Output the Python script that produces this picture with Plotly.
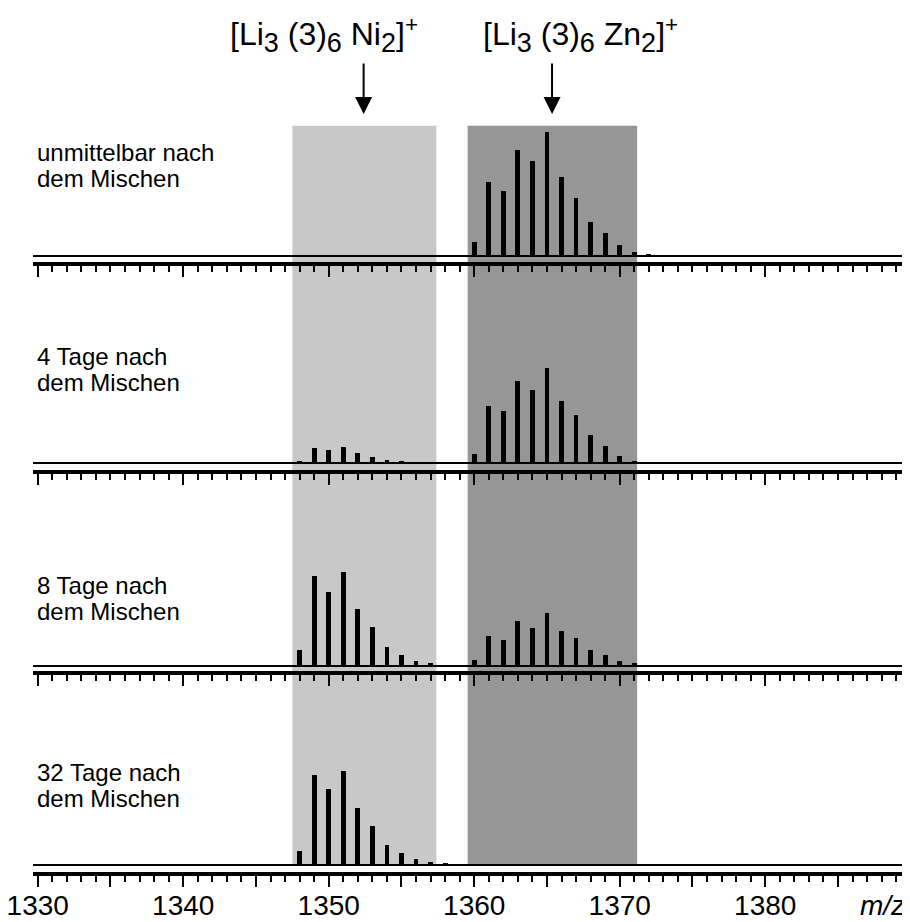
import plotly.graph_objects as go
from plotly.subplots import make_subplots

# ---------------- data ----------------
mz = list(range(1347, 1373))  # isotope peak positions (m/z)

# relative intensities (common scale, panel 1 max = 100)
#            1347 .................................................... 1372
p1_int = [0, 0, 0, 0, 0, 0, 0, 0, 0, 0, 0, 0, 0,
          11.3, 59.7, 52.4, 85.5, 76.6, 100, 63.7, 46.8, 27.4, 18.5, 8.9, 3.2, 1.2]
p2_int = [0.3, 1.6, 12.1, 10.2, 12.9, 8.1, 4.8, 2.2, 1.0, 0.4, 0, 0, 0.3,
          7.5, 46.0, 42.0, 66.0, 59.0, 77.0, 50.0, 38.7, 22.6, 13.7, 5.6, 1.9, 0.8]
p3_int = [0.6, 12.9, 72.6, 59.7, 75.8, 46.0, 31.5, 15.3, 8.9, 4.0, 2.4, 0.8, 0.8,
          4.8, 24.2, 21.0, 36.3, 30.6, 42.7, 28.2, 22.6, 12.9, 8.9, 4.0, 2.4, 0.8]
p4_int = [0.4, 11.3, 72.6, 61.3, 75.8, 46.0, 31.5, 16.1, 9.7, 4.8, 2.4, 1.4, 0.8,
          0.4, 0.4, 0.4, 0.4, 0.4, 0.4, 0.4, 0.4, 0.4, 0, 0, 0, 0]
panels = [p1_int, p2_int, p3_int, p4_int]
panel_labels = [("unmittelbar nach", "dem Mischen"),
                ("4 Tage nach", "dem Mischen"),
                ("8 Tage nach", "dem Mischen"),
                ("32 Tage nach", "dem Mischen")]

ni_window = (1347.5, 1357.4)
zn_window = (1359.55, 1371.2)
ni_arrow_mz = 1352.4
zn_arrow_mz = 1365.35
SUB = '<sub><span style="font-size:27px">{}</span></sub>'
ni_label = "[Li" + SUB.format("3") + " (3)" + SUB.format("6") + " Ni" + SUB.format("2") + "]<sup>+</sup>"
zn_label = "[Li" + SUB.format("3") + " (3)" + SUB.format("6") + " Zn" + SUB.format("2") + "]<sup>+</sup>"
major_ticks = list(range(1330, 1390, 5))
major_text = [str(v) if v % 10 == 0 else "" for v in major_ticks]

# ---------------- layout geometry ----------------
# page pixels of the reference; the html body adds an 8 px margin, so the
# figure is made 8 px smaller and every page position is shifted by 8 px.
PAGE_W, PAGE_H = 910, 922
OFF = 8
W, H = PAGE_W - OFF, PAGE_H - OFF
FONT = "Liberation Sans, Arial, sans-serif"
px_per_unit = 1.24
baselines = [256, 463, 666, 865]
axes_y = [264, 472, 673, 874]
label_y = [152, 356, 585, 772]
panel_h = 180
x_left_px, x_right_px = 33, 906
px_per_mz = 14.55
x0 = 1330 - (37.7 - x_left_px) / px_per_mz
x1 = 1330 + (x_right_px - 37.7) / px_per_mz


def px(p):
    return (p - OFF) / W


def py(p):
    return 1 - (p - OFF) / H


fig = make_subplots(rows=4, cols=1, shared_xaxes=False)

for i, vals in enumerate(panels):
    r = i + 1
    fig.add_trace(go.Bar(x=mz, y=vals, width=0.33, marker=dict(color="black", line=dict(width=0)),
                         showlegend=False, hoverinfo="skip"), row=r, col=1)

for i in range(4):
    r = i + 1
    bottom_px = axes_y[i] - 2
    ymin = -(bottom_px - baselines[i]) / px_per_unit
    ymax = ymin + panel_h / px_per_unit
    yname = "yaxis" if i == 0 else f"yaxis{r}"
    xname = "xaxis" if i == 0 else f"xaxis{r}"
    fig.layout[yname].update(domain=[py(bottom_px), py(bottom_px - panel_h)], range=[ymin, ymax],
                             showgrid=False, showticklabels=False, ticks="", showline=False,
                             automargin=False,
                             zeroline=True, zerolinecolor="black", zerolinewidth=2)
    fig.layout[xname].update(domain=[px(x_left_px), px(x_right_px)], range=[x0, x1],
                             automargin=False,
                             showgrid=False, zeroline=False, showline=True, linecolor="black",
                             linewidth=4, ticks="outside", ticklen=11, tickwidth=2, tickcolor="black",
                             tickmode="array", tickvals=major_ticks, ticktext=major_text,
                             showticklabels=(i == 3), ticklabeloverflow="allow",
                             ticklabelstandoff=-6,
                             tickfont=dict(family=FONT, size=28, color="black"),
                             minor=dict(tickmode="linear", tick0=1330, dtick=1, ticklen=6, tickwidth=2,
                                        tickcolor="black", ticks="outside", showgrid=False))
    if i > 0:
        fig.layout[xname].update(matches="x")

shapes = []
for (a, b), col in [(ni_window, "#c8c8c8"), (zn_window, "#969696")]:
    shapes.append(dict(type="rect", xref="x", yref="paper", x0=a, x1=b,
                       y0=py(865), y1=py(125.7), fillcolor=col, line=dict(width=0), layer="below"))

ann = []
for i, (l1, l2) in enumerate(panel_labels):
    ann.append(dict(xref="paper", yref="paper", x=px(35), y=py(label_y[i]), text=l1,
                    showarrow=False, xanchor="left", yanchor="middle",
                    font=dict(family=FONT, size=24, color="black")))
    ann.append(dict(xref="paper", yref="paper", x=px(35), y=py(label_y[i] + 26.5), text=l2,
                    showarrow=False, xanchor="left", yanchor="middle",
                    font=dict(family=FONT, size=24, color="black")))

for mzv in (ni_arrow_mz, zn_arrow_mz):
    ann.append(dict(xref="x", yref="paper", x=mzv, y=py(114), text="", showarrow=True,
                    ax=0, ay=-52, arrowhead=2, arrowsize=1.7, arrowwidth=2, arrowcolor="black"))

ann.append(dict(xref="paper", yref="paper", x=px(324), y=py(35), text=ni_label, showarrow=False,
                xanchor="center", yanchor="middle", font=dict(family=FONT, size=32, color="black")))
ann.append(dict(xref="paper", yref="paper", x=px(580), y=py(35), text=zn_label, showarrow=False,
                xanchor="center", yanchor="middle", font=dict(family=FONT, size=32, color="black")))
ann.append(dict(xref="paper", yref="paper", x=px(907), y=py(905), text="<i>m/z</i>", showarrow=False,
                xanchor="right", yanchor="middle", font=dict(family=FONT, size=28, color="black")))

fig.update_layout(width=W, height=H, margin=dict(l=0, r=0, t=0, b=0, autoexpand=False),
                  paper_bgcolor="white", plot_bgcolor="rgba(0,0,0,0)",
                  shapes=shapes, annotations=ann, bargap=0, showlegend=False)

fig.write_html("out.html")
